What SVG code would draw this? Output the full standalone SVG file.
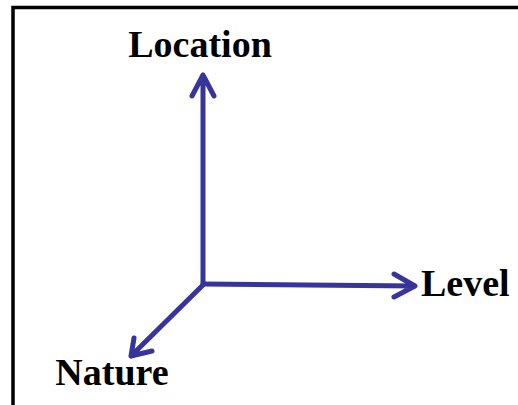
<svg xmlns="http://www.w3.org/2000/svg" width="518" height="405" viewBox="0 0 518 405">
<style>
.ax{fill:none;stroke:#37359b;stroke-width:5;stroke-linecap:round;stroke-linejoin:round}
.lbl{font-family:"Liberation Serif","Times New Roman",serif;font-weight:bold;font-size:38px;fill:#000}
</style>
<rect width="518" height="405" fill="#fff"/>
<path d="M13 410 V7.5 H525" fill="none" stroke="#000" stroke-width="3.5"/>
<g id="connectors">
<path class="ax" d="M203 284 V75 M192 96 L203 75 L214 96"/>
<path class="ax" d="M203 284 L415 286 M394 274 L415 286 L394 297"/>
<path class="ax" d="M203 285 L131 356 M134 338 L131 356 L152 351"/>
</g>
<g id="location"><text class="lbl" x="200" y="57" text-anchor="middle">Location</text></g>
<g id="level"><text class="lbl" x="421" y="296">Level</text></g>
<g id="nature"><text class="lbl" x="112" y="385" text-anchor="middle">Nature</text></g>
</svg>
